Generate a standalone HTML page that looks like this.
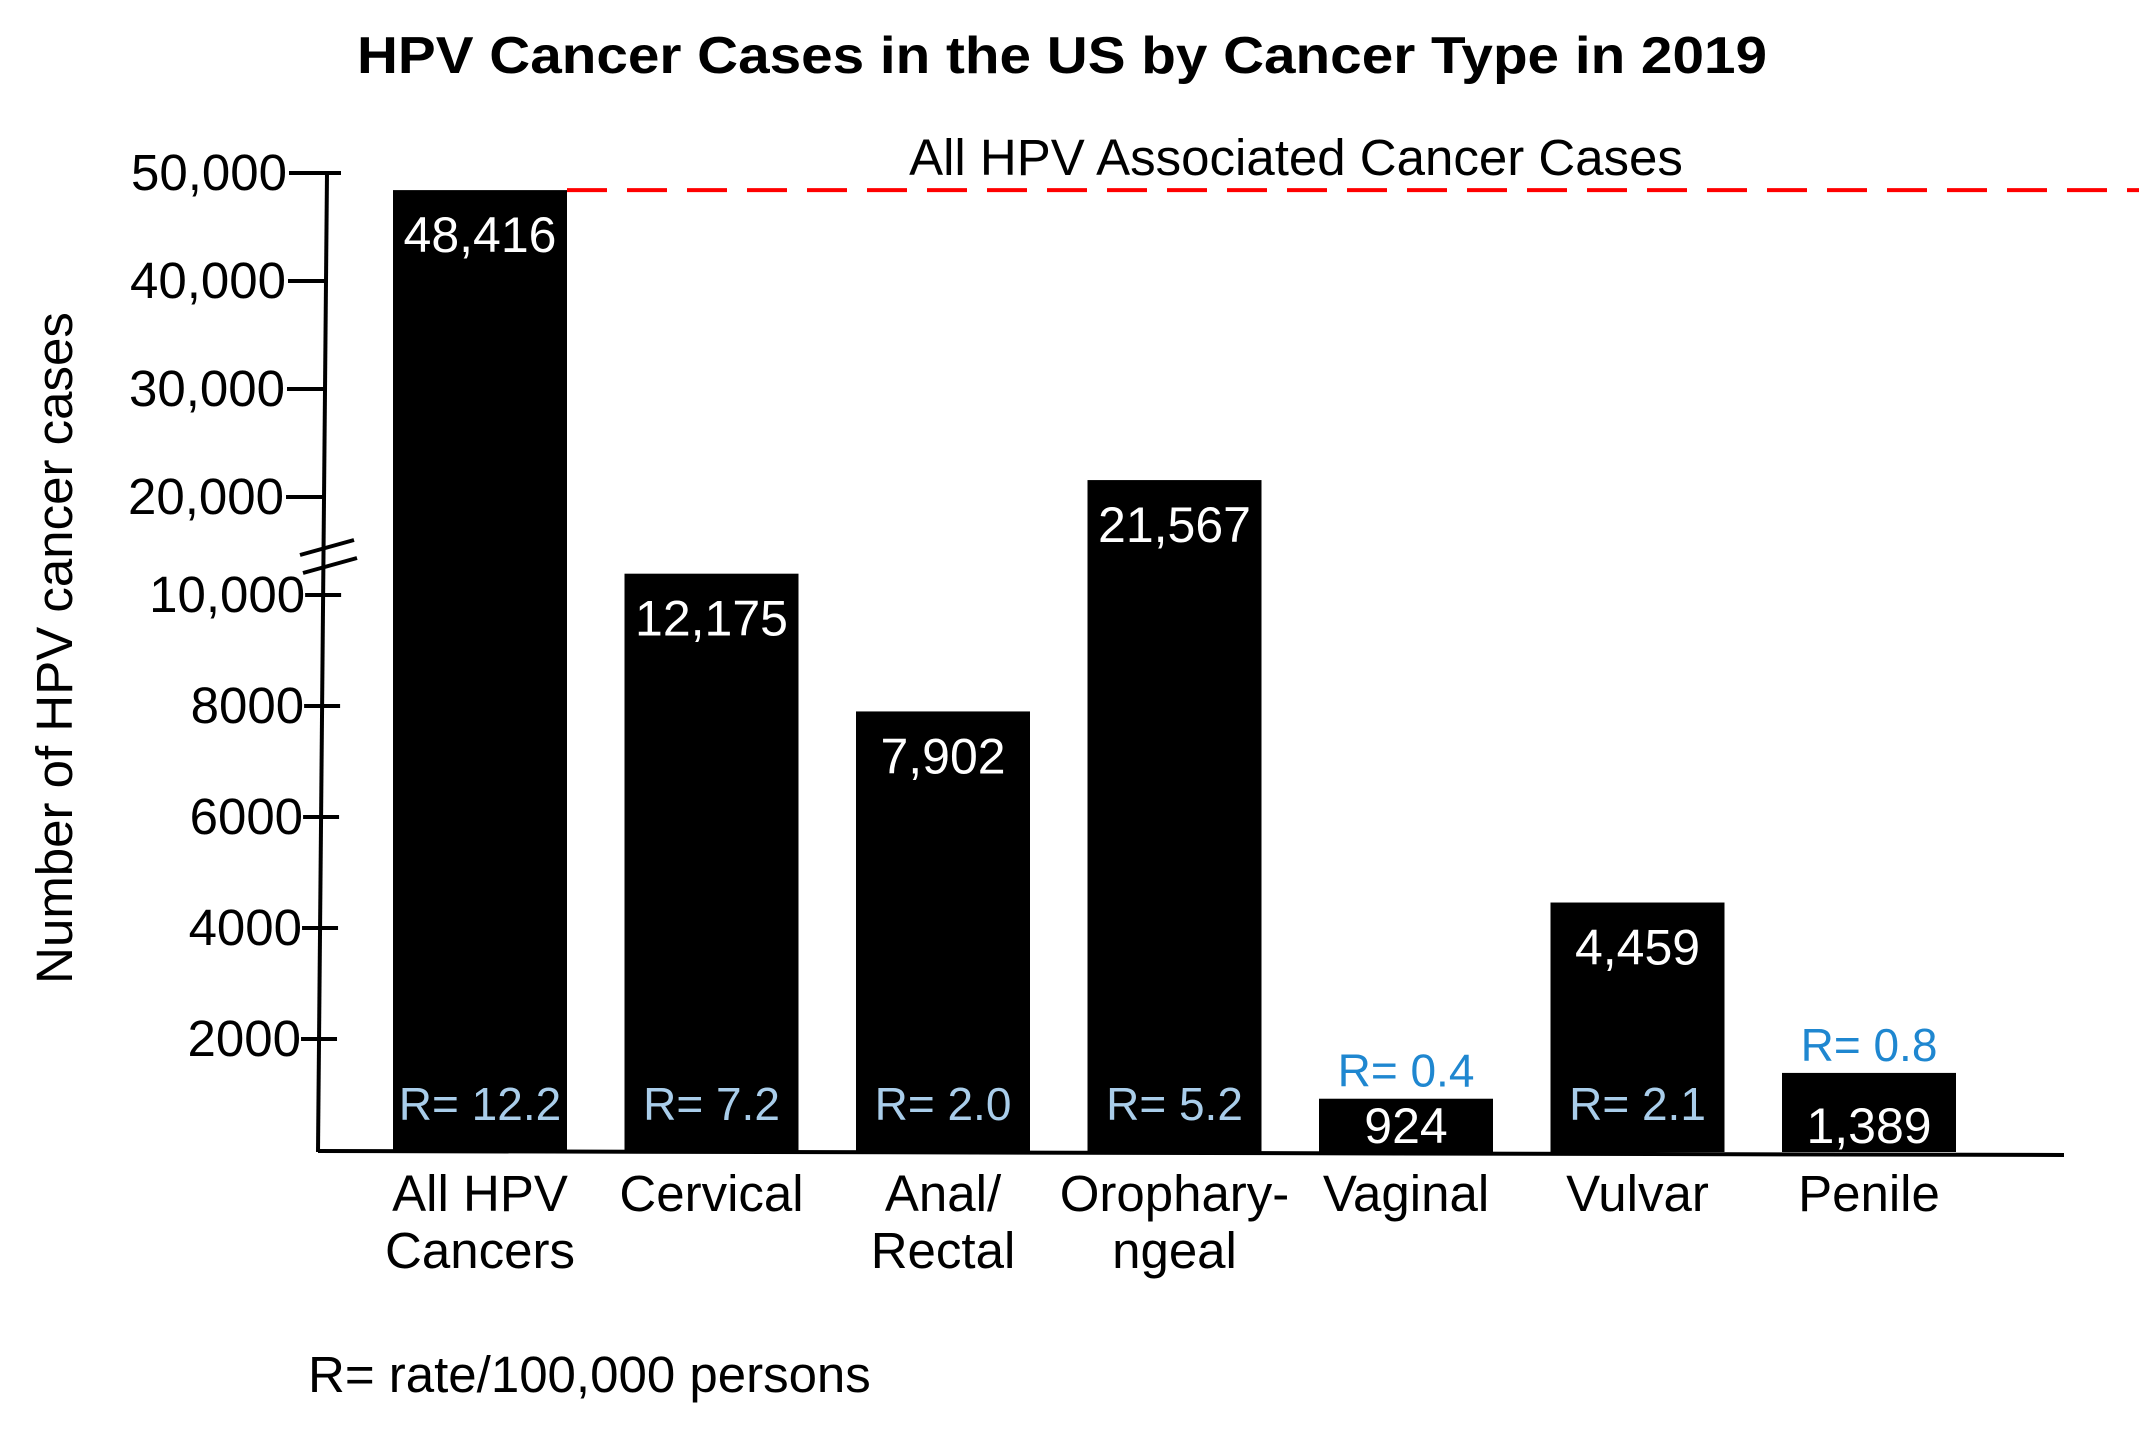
<!DOCTYPE html>
<html><head><meta charset="utf-8"><style>
html,body{margin:0;padding:0;background:#fff;}
svg{display:block;font-family:"Liberation Sans",Arial,sans-serif;}
</style></head><body>
<svg id="chart" width="2139" height="1430" viewBox="0 0 2139 1430" xmlns="http://www.w3.org/2000/svg">
<text x="1062" y="73" text-anchor="middle" font-size="52" font-weight="bold" textLength="1410" lengthAdjust="spacingAndGlyphs">HPV Cancer Cases in the US by Cancer Type in 2019</text>
<text transform="translate(72,648) rotate(-90)" text-anchor="middle" font-size="51">Number of HPV cancer cases</text>
<text x="308" y="1392" font-size="51">R= rate/100,000 persons</text>
<g id="axes"></g>
<g id="bars"></g>
</svg>
<script>
const categories = [["All HPV","Cancers"],["Cervical"],["Anal/","Rectal"],["Orophary-","ngeal"],["Vaginal"],["Vulvar"],["Penile"]];
const values = [48416, 12175, 7902, 21567, 924, 4459, 1389];
const valueLabels = ["48,416","12,175","7,902","21,567","924","4,459","1,389"];
const rates = ["12.2","7.2","2.0","5.2","0.4","2.1","0.8"];
const tickValues = [2000, 4000, 6000, 8000, 10000, 20000, 30000, 40000, 50000];
const tickLabels = ["2000","4000","6000","8000","10,000","20,000","30,000","40,000","50,000"];
const totalLine = 48416;

const NS = "http://www.w3.org/2000/svg";
function y(v){
  if (v <= 10000) return 1150 - v*0.0555;
  if (v <= 20000) return 595 - (v-10000)*0.0098;
  return 497 - (v-20000)*0.0108;
}
function axisX(yy){ return 327 - (yy-173)/(1150-173)*9; }
function xBar(i){ return 393 + i*231.5; }
const BW = 174;
function mk(tag, attrs, parent){ const e=document.createElementNS(NS,tag); for(const k in attrs) e.setAttribute(k,attrs[k]); parent.appendChild(e); return e; }
const axes = document.getElementById('axes');
const bars = document.getElementById('bars');

let yl = mk('line',{x1:327,y1:173,x2:318,y2:1152,stroke:'#000','stroke-width':4},axes);
 
let xl = mk('line',{x1:318,y1:1151,x2:2064,y2:1155,stroke:'#000','stroke-width':4},axes);
 
let b1 = mk('line',{x1:300,y1:555,x2:354,y2:540,stroke:'#000','stroke-width':4},axes);
 
let b2 = mk('line',{x1:303,y1:573,x2:357,y2:558,stroke:'#000','stroke-width':4},axes);
 

tickValues.forEach((v,i)=>{
  const yy = y(v), ax = axisX(yy);
  const upper = v >= 20000;
  const t = mk('line',{x1: upper? ax-38 : ax-18, y1:yy, x2: upper? ax+ (v===50000?14:0) : ax+18, y2:yy, stroke:'#000','stroke-width':4},axes);
   
  const lab = mk('text',{x: upper? ax-40 : ax-18, y: yy+17, 'text-anchor':'end','font-size':51},axes);
  lab.textContent = tickLabels[i];
   
});

const dl = mk('line',{x1: xBar(0)+BW, y1:y(totalLine), x2:2139, y2:y(totalLine), stroke:'#ff0000','stroke-width':4,'stroke-dasharray':'40,20'},axes);
 
const dlt = mk('text',{x:1296, y:y(totalLine)-15,'text-anchor':'middle','font-size':51},axes);
dlt.textContent = 'All HPV Associated Cancer Cases';
 

values.forEach((v,i)=>{
  const x = xBar(i), top = y(v), cx = x + BW/2;
  const r = mk('rect',{x:x, y:top, width:BW, height:1152-top, fill:'#000'},bars);
   
  const small = (1152-top) < 110;
  const vl = mk('text',{x:cx, y: small ? 1143 : top+62,'text-anchor':'middle','font-size':50,fill:'#fff'},bars);
  vl.textContent = valueLabels[i];
   
  const rl = mk('text',{x:cx, y: small ? top-12 : 1120,'text-anchor':'middle','font-size':46,fill: small ? '#1f87d0' : '#a9cdea'},bars);
  rl.textContent = 'R= ' + rates[i];
   
  categories[i].forEach((line,j)=>{
    const cl = mk('text',{x:cx, y:1211 + j*57,'text-anchor':'middle','font-size':51},bars);
    cl.textContent = line;
     
  });
});
</script>
</body></html>
